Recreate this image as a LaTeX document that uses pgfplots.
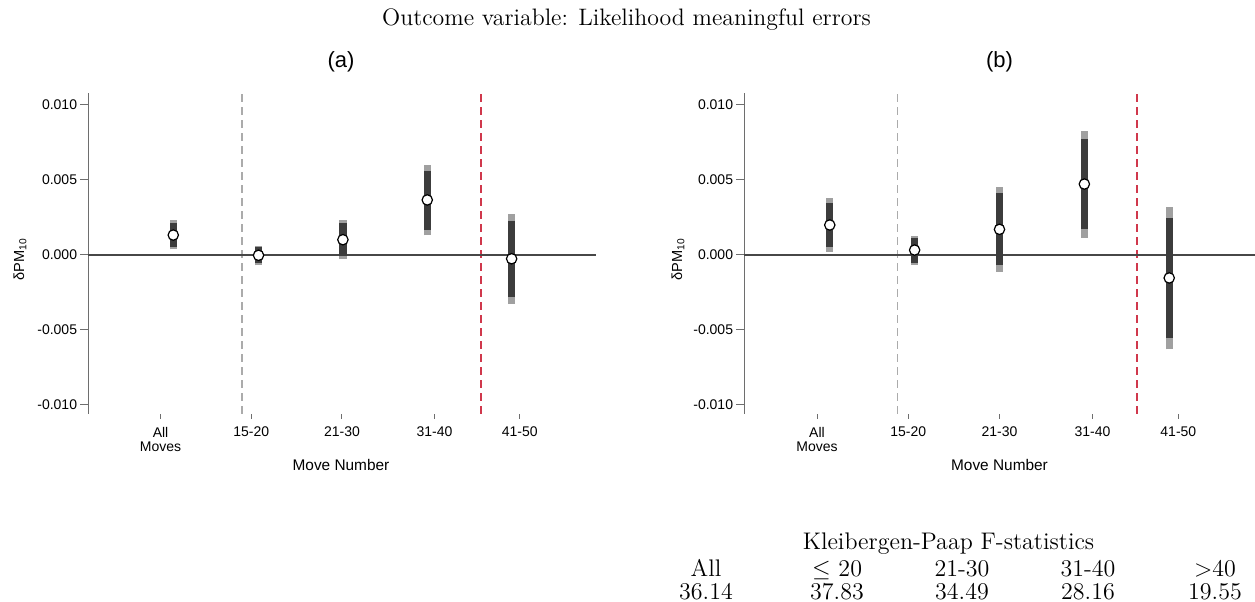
\documentclass[border=0pt]{standalone}
\usepackage{fontspec}
\usepackage{pgfplots}
\pgfplotsset{compat=1.18}
\newfontfamily\hv{Liberation Sans}

\definecolor{cilight}{HTML}{A0A0A0}
\definecolor{cidark}{HTML}{3C3C3C}
\definecolor{vred}{HTML}{D0384C}
\definecolor{vgray}{HTML}{ABABAB}
\definecolor{axgray}{HTML}{6E6E6E}

\pgfplotsset{
  panel/.style={
    scale only axis, height=160.5pt,
    xmin=0.2, xmax=5.8, ymin=-0.0106, ymax=0.0108,
    axis x line*=bottom, axis y line*=left,
    axis line style={-},
    x axis line style={draw=none},
    y axis line style={draw=axgray, line width=0.5pt},
    tick align=outside,
    tick style={draw=axgray, line width=0.5pt},
    xtick style={/pgfplots/major tick length=2.5pt},
    ytick style={/pgfplots/major tick length=4pt},
    xtick={1,2,3,4.02,4.96},
    xticklabels={{All\\Moves},15-20,21-30,31-40,41-50},
    ytick={-0.01,-0.005,0,0.005,0.01},
    yticklabels={-0.010,-0.005,0.000,0.005,0.010},
    scaled y ticks=false,
    tick label style={font=\hv\fontsize{7}{7.4}\selectfont},
    xticklabel style={align=center, inner sep=2pt},
    yticklabel style={inner sep=1pt},
    unbounded coords=jump,
    clip=false,
  },
  lightbar/.style={cilight, line width=3.6pt},
  darkbar/.style={cidark, line width=3.6pt},
  est/.style={only marks, mark=*, mark size=2.6pt,
              mark options={fill=white, draw=black, line width=0.6pt}},
  zeroline/.style={black!72, line width=0.75pt},
  sep/.style={dash pattern=on 4pt off 2.5pt},
  redsep/.style={sep, line width=1pt, draw=vred, color=vred},
  graysep/.style={sep, line width=0.8pt, draw=vgray, color=vgray},
}

\begin{document}
\begin{tikzpicture}
\useasboundingbox (0,0) rectangle (627.5pt,300.5pt);

\node[anchor=base, font=\fontsize{11.9}{14}\selectfont] at (313.25pt,287.5pt)
  {Outcome variable: Likelihood meaningful errors};

% ---- panel (a)
\begin{axis}[panel, width=254pt, at={(44pt,93.5pt)}, anchor=south west]
\addplot[graysep] coordinates {(1.90,-0.0106) (1.90,0.0108)};
\addplot[redsep] coordinates {(4.53,-0.0106) (4.53,0.0108)};
\addplot[zeroline] coordinates {(0.2,0) (5.8,0)};
% 95% intervals
\addplot[lightbar] coordinates {
  (1.14,0.00038) (1.14,0.00231) (1.14,nan)
  (2.08,-0.00070) (2.08,0.00063) (2.08,nan)
  (3.01,-0.00030) (3.01,0.00230) (3.01,nan)
  (3.94,0.00130) (3.94,0.00600) (3.94,nan)
  (4.87,-0.00327) (4.87,0.00273)
};
% 90% intervals
\addplot[darkbar] coordinates {
  (1.14,0.00055) (1.14,0.00216) (1.14,nan)
  (2.08,-0.00055) (2.08,0.00053) (2.08,nan)
  (3.01,-0.00010) (3.01,0.00211) (3.01,nan)
  (3.94,0.00167) (3.94,0.00560) (3.94,nan)
  (4.87,-0.00280) (4.87,0.00229)
};
\addplot[est] coordinates {
  (1.14,0.00133) (2.08,-0.00002) (3.01,0.00102) (3.94,0.00367) (4.87,-0.00025)
};
\end{axis}

% ---- panel (b)
\begin{axis}[panel, width=255.5pt, at={(372pt,93.5pt)}, anchor=south west]
\addplot[graysep] coordinates {(1.88,-0.0106) (1.88,0.0108)};
\addplot[redsep] coordinates {(4.51,-0.0106) (4.51,0.0108)};
\addplot[zeroline] coordinates {(0.2,0) (5.8,0)};
\addplot[lightbar] coordinates {
  (1.14,0.00022) (1.14,0.00378) (1.14,nan)
  (2.07,-0.00067) (2.07,0.00129) (2.07,nan)
  (3.00,-0.00111) (3.00,0.00456) (3.00,nan)
  (3.93,0.00116) (3.93,0.00829) (3.93,nan)
  (4.86,-0.00629) (4.86,0.00322)
};
\addplot[darkbar] coordinates {
  (1.14,0.00056) (1.14,0.00349) (1.14,nan)
  (2.07,-0.00051) (2.07,0.00111) (2.07,nan)
  (3.00,-0.00067) (3.00,0.00411) (3.00,nan)
  (3.93,0.00173) (3.93,0.00773) (3.93,nan)
  (4.86,-0.00551) (4.86,0.00249)
};
\addplot[est] coordinates {
  (1.14,0.00200) (2.07,0.00033) (3.00,0.00171) (3.93,0.00473) (4.86,-0.00153)
};
\end{axis}

% panel titles and axis labels
\node[font=\hv\fontsize{11}{13}\selectfont] at (170.5pt,269.5pt) {(a)};
\node[font=\hv\fontsize{11}{13}\selectfont] at (499.75pt,269.5pt) {(b)};
\node[font=\hv\fontsize{7.7}{9}\selectfont] at (170.5pt,68pt) {Move Number};
\node[font=\hv\fontsize{7.7}{9}\selectfont] at (499.75pt,68pt) {Move Number};
\node[rotate=90, font=\hv\fontsize{7.3}{9}\selectfont] at (10pt,171pt) {δPM\textsubscript{10}};
\node[rotate=90, font=\hv\fontsize{7.3}{9}\selectfont] at (339pt,171pt) {δPM\textsubscript{10}};

% first-stage statistics
\begin{scope}[every node/.style={anchor=base, font=\fontsize{12}{14}\selectfont}]
\node at (474.25pt,26pt) {Kleibergen-Paap F-statistics};
\node at (353pt,12.5pt) {All};
\node at (418.5pt,12.5pt) {$\leq$ 20};
\node at (481pt,12.5pt) {21-30};
\node at (544pt,12.5pt) {31-40};
\node at (607.5pt,12.5pt) {$>$40};
\node at (353pt,1pt) {36.14};
\node at (418.5pt,1pt) {37.83};
\node at (481pt,1pt) {34.49};
\node at (544pt,1pt) {28.16};
\node at (607.5pt,1pt) {19.55};
\end{scope}
\end{tikzpicture}
\end{document}
